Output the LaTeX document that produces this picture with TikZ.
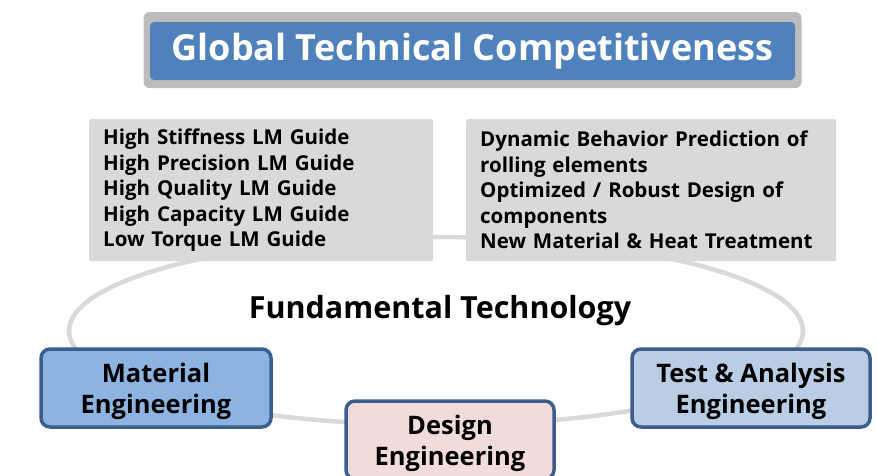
\documentclass[tikz,border=0pt]{standalone}
\usepackage{fontspec}
\setmainfont{Open Sans}
\usetikzlibrary{positioning}
\definecolor{titleblue}{HTML}{4F81BD}
\definecolor{shadowgray}{HTML}{A6A6A6}
\definecolor{boxgray}{HTML}{D9D9D9}
\definecolor{ringgray}{HTML}{D9D9D9}
\definecolor{edgeblue}{HTML}{3B5E8C}
\definecolor{matblue}{HTML}{8DB3E2}
\definecolor{testblue}{HTML}{B9CDE5}
\definecolor{designpink}{HTML}{F2DCDB}

\begin{document}
\begin{tikzpicture}[x=1pt,y=-1pt,font=\bfseries,
        listbox/.style={fill=boxgray,rounded corners=2pt,anchor=north west,minimum height=142pt,
            inner xsep=14pt,inner ysep=8pt,align=left,font=\bfseries\fontsize{20.5}{25.5}\selectfont},
        field/.style={draw=edgeblue,line width=3.5pt,rounded corners=9pt,align=center,text depth=0pt,
            font=\bfseries\fontsize{25.5}{31}\selectfont,minimum height=78pt}]
        \useasboundingbox (0,0) rectangle (877,475);
        % the ring
        \draw[ringgray,line width=4.5pt] (436,331) ellipse (367pt and 94pt);
        % title
        \node[fill=shadowgray!75,rounded corners=6pt,minimum width=658pt,minimum height=76pt] (sh) at (472.5,50) {};
        \node[fill=titleblue,text=white,rounded corners=4pt,minimum width=645pt,minimum height=58pt,
            font=\bfseries\fontsize{36}{40}\selectfont] (gtc) at (472.5,51) {Global Technical Competitiveness};
        % lists
        \node[listbox,text width=316pt] (lm) at (89,119) {High Stiffness LM Guide\\High Precision LM Guide\\High Quality LM Guide\\High Capacity LM Guide\\Low Torque LM Guide};
        \node[listbox,text width=342pt] (dyn) at (466,119) {Dynamic Behavior Prediction of\\rolling elements\\Optimized / Robust Design of\\components\\New Material \& Heat Treatment};
        \node[font=\bfseries\fontsize{30.5}{34}\selectfont] (ft) at (440,311) {Fundamental Technology};
        % fields
        \node[field,fill=matblue,minimum width=230pt] (mat) at (156,388) {Material\\Engineering};
        \node[field,fill=designpink,minimum width=208pt] (des) at (450,440) {Design\\Engineering};
        \node[field,fill=testblue,minimum width=238pt] (tae) at (751,388) {Test \& Analysis\\Engineering};
\end{tikzpicture}
\end{document}
